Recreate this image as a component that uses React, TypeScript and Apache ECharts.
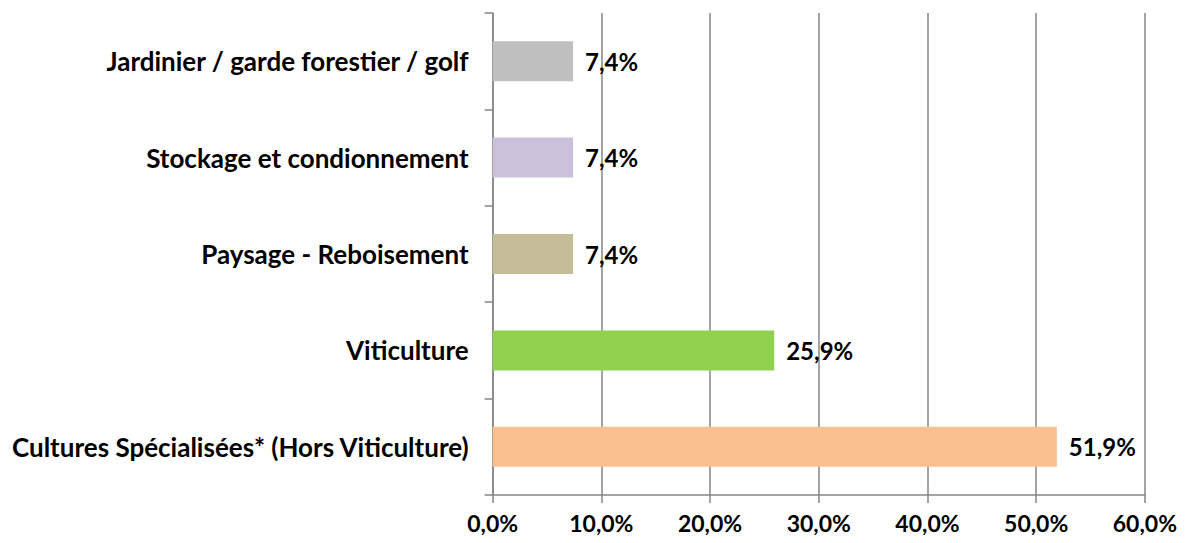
import React, { useEffect, useRef } from "react";
import * as echarts from "echarts";

const categories = [
  "Cultures Spécialisées* (Hors Viticulture)",
  "Viticulture",
  "Paysage - Reboisement",
  "Stockage et condionnement",
  "Jardinier / garde forestier / golf",
];
const values = [51.9, 25.9, 7.4, 7.4, 7.4];
const colors = ["#FAC090", "#92D050", "#C4BD97", "#CCC1DA", "#BFBFBF"];

const fmt = (v: number) => v.toFixed(1).replace(".", ",") + "%";

export default function App() {
  const ref = useRef<HTMLDivElement>(null);
  useEffect(() => {
    if (!ref.current) return;
    const chart = echarts.init(ref.current, undefined, { renderer: "svg" });
    const font = "Lato";
    chart.setOption({
      animation: false,
      grid: { left: 482, right: 30, top: 5, bottom: 40, containLabel: false },
      xAxis: {
        type: "value",
        min: 0,
        max: 60,
        interval: 10,
        axisLine: { show: true, lineStyle: { color: "#868686", width: 1.5 } },
        axisTick: { show: true, length: 8, lineStyle: { color: "#868686", width: 1.5 } },
        splitLine: { show: true, lineStyle: { color: "#868686", width: 1.5 } },
        axisLabel: {
          formatter: (v: number) => fmt(v),
          color: "#000",
          fontFamily: font,
          fontWeight: "bold",
          fontSize: 23,
          margin: 16,
        },
      },
      yAxis: {
        type: "category",
        data: categories,
        axisLine: { show: true, lineStyle: { color: "#868686", width: 1.5 } },
        axisTick: { show: true, length: 8, lineStyle: { color: "#868686", width: 1.5 } },
        axisLabel: {
          color: "#000",
          fontFamily: font,
          fontWeight: "bold",
          fontSize: 26,
          margin: 24,
        },
      },
      series: [
        {
          type: "bar",
          data: values.map((v, i) => ({ value: v, itemStyle: { color: colors[i] } })),
          barWidth: "41.5%",
          label: {
            show: true,
            position: "right",
            distance: 12,
            formatter: (p: any) => fmt(p.value),
            color: "#000",
            fontFamily: font,
            fontWeight: "bold",
            fontSize: 24,
          },
        },
      ],
    });
    return () => chart.dispose();
  }, []);
  return <div ref={ref} style={{ width: 1172, height: 527 }} />;
}
